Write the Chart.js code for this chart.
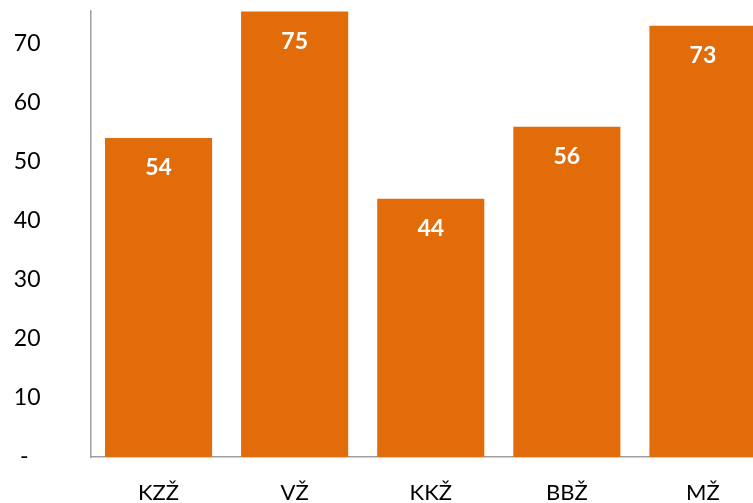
<!DOCTYPE html>
<html>
<head>
<meta charset="utf-8">
<script src="https://cdn.jsdelivr.net/npm/chart.js@4/dist/chart.umd.min.js"></script>
<style>
  html, body { margin: 0; padding: 0; overflow: hidden; background: #fff; }
  #wrap { position: absolute; left: 0; top: 0; width: 771px; height: 521px; }
</style>
</head>
<body>
<div id="wrap"><canvas id="c"></canvas></div>
<script>
const categories = ['KZŽ', 'VŽ', 'KKŽ', 'BBŽ', 'MŽ'];
const values = [54, 75.4, 43.7, 55.9, 73];
const yTicks = [0, 10, 20, 30, 40, 50, 60, 70];

const barColor = '#E36C0A';
const axisColor = '#A0A0A0';
const fontFamily = 'Lato, "Open Sans", sans-serif';

const valueLabels = {
  id: 'valueLabels',
  afterDatasetsDraw(chart) {
    const ctx = chart.ctx;
    const meta = chart.getDatasetMeta(0);
    ctx.save();
    ctx.fillStyle = '#FFFFFF';
    ctx.font = 'bold 23px ' + fontFamily;
    ctx.textAlign = 'center';
    ctx.textBaseline = 'middle';
    meta.data.forEach((bar, i) => {
      ctx.fillText(String(Math.round(chart.data.datasets[0].data[i])), bar.x, bar.y + 30);
    });
    ctx.restore();
  }
};

new Chart(document.getElementById('c'), {
  type: 'bar',
  data: {
    labels: categories,
    datasets: [{
      data: values,
      backgroundColor: barColor,
      borderWidth: 0,
      categoryPercentage: 1,
      barPercentage: 0.787
    }]
  },
  options: {
    responsive: true,
    maintainAspectRatio: false,
    animation: false,
    layout: { padding: { top: 11, left: 0, right: 0, bottom: 0 } },
    plugins: { legend: { display: false }, tooltip: { enabled: false } },
    scales: {
      x: {
        grid: { display: false },
        border: { display: true, color: axisColor, width: 1.5 },
        ticks: {
          color: '#000000',
          font: { family: fontFamily, size: 22 },
          padding: 15,
          maxRotation: 0
        },
        afterFit(scale) { scale.height = 64; scale.paddingLeft = 0; scale.paddingRight = 0; }
      },
      y: {
        min: 0,
        max: 75.5,
        grid: { display: false },
        border: { display: true, color: axisColor, width: 1.5 },
        afterBuildTicks(scale) {
          scale.ticks = yTicks.map(v => ({ value: v }));
        },
        ticks: {
          color: '#000000',
          font: { family: fontFamily, size: 23 },
          padding: 42,
          crossAlign: 'center',
          callback: (v) => (v === 0 ? '- ' : String(v))
        },
        afterFit(scale) { scale.width = 90.5; scale.paddingTop = 0; scale.paddingBottom = 0; }
      }
    }
  },
  plugins: [valueLabels]
});
</script>
</body>
</html>
